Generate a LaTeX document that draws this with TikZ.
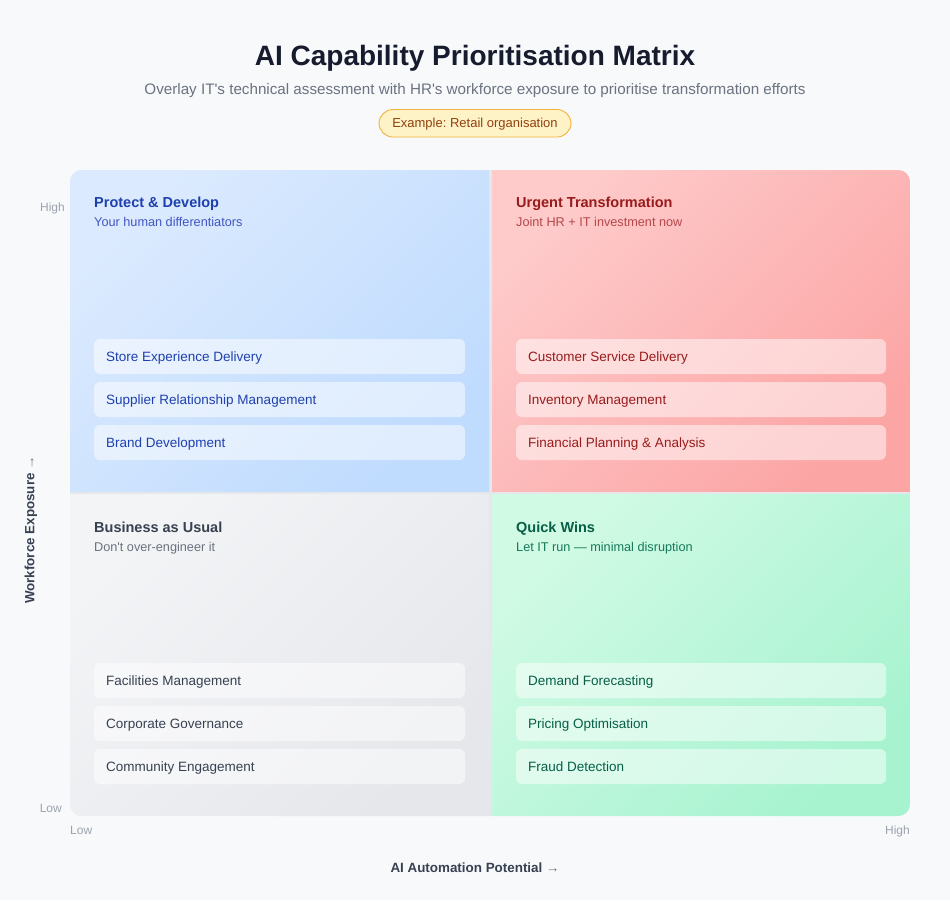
\documentclass[tikz,border=0pt]{standalone}
\usepackage{fontspec}
\setmainfont{Liberation Sans}
\frenchspacing
\definecolor{bg}{HTML}{F8F9FB}
\definecolor{titlec}{HTML}{161B2E}
\definecolor{subc}{HTML}{6B7280}
\definecolor{badgefill}{HTML}{FEF3C7}
\definecolor{badgeline}{HTML}{F2B23A}
\definecolor{badgetext}{HTML}{92400E}
\definecolor{gapc}{HTML}{E5E7EB}
\definecolor{tlA}{HTML}{DBEAFE}
\definecolor{tlB}{HTML}{BFDBFE}
\definecolor{trA}{HTML}{FECACA}
\definecolor{trB}{HTML}{FCA5A5}
\definecolor{blA}{HTML}{F3F4F6}
\definecolor{blB}{HTML}{E5E7EB}
\definecolor{brA}{HTML}{D1FAE5}
\definecolor{brB}{HTML}{A7F3D0}
\definecolor{tlT}{HTML}{1E40AF}
\definecolor{tlS}{HTML}{4256C2}
\definecolor{trT}{HTML}{991B1B}
\definecolor{trS}{HTML}{B4484B}
\definecolor{blT}{HTML}{374151}
\definecolor{blS}{HTML}{6B7280}
\definecolor{brT}{HTML}{065F46}
\definecolor{brS}{HTML}{15795A}
\definecolor{axisc}{HTML}{9CA3AF}
\definecolor{axislbl}{HTML}{374151}
\begin{document}
\begin{tikzpicture}[x=1pt,y=-1pt,
  txt/.style={anchor=base west, inner sep=0pt},
  ctxt/.style={anchor=base, inner sep=0pt},
  qtitle/.style={txt, font=\fontsize{14.5}{17}\selectfont\bfseries},
  qsub/.style={txt, font=\fontsize{12.7}{15}\selectfont},
  itemtxt/.style={txt, font=\fontsize{13.5}{16}\selectfont},
  itembox/.style={fill=white, fill opacity=0.5, rounded corners=6pt},
  axtxt/.style={inner sep=0pt, font=\fontsize{12}{14}\selectfont, text=axisc}]
\useasboundingbox (0,0) rectangle (950,900);
\fill[bg] (0,0) rectangle (950,900);

% header
\node[ctxt, font=\fontsize{28}{32}\selectfont\bfseries, text=titlec] (title) at (475,65) {AI Capability Prioritisation Matrix};
\node[ctxt, font=\fontsize{15.2}{18}\selectfont, text=subc] (subtitle) at (475,94) {Overlay IT\textquotesingle s technical assessment with HR\textquotesingle s workforce exposure to prioritise transformation efforts};
\draw[fill=badgefill, draw=badgeline, line width=0.9pt, rounded corners=14pt] (379,109.5) rectangle (571,137);
\node[ctxt, font=\fontsize{13}{15}\selectfont, text=badgetext] (badge) at (475,127.8) {Example: Retail organisation};

% quadrants
\begin{scope}
\clip[rounded corners=12pt] (70,170) rectangle (910,816);
\fill[gapc] (70,170) rectangle (910,816);
\shade[top color=tlA, bottom color=tlB, shading angle=45] (70,170) rectangle (489,491);
\shade[top color=trA, bottom color=trB, shading angle=45] (492,170) rectangle (910,491);
\shade[top color=blA, bottom color=blB, shading angle=45] (70,494) rectangle (489,816);
\shade[top color=brA, bottom color=brB, shading angle=45] (492,494) rectangle (910,816);
\end{scope}

% quadrant headings
\node[qtitle, text=tlT] (tltitle) at (94,207) {Protect \& Develop};
\node[qsub, text=tlS] (tlsub) at (94,226) {Your human differentiators};
\node[qtitle, text=trT] (trtitle) at (516,207) {Urgent Transformation};
\node[qsub, text=trS] (trsub) at (516,226) {Joint HR + IT investment now};
\node[qtitle, text=blT] (bltitle) at (94,532) {Business as Usual};
\node[qsub, text=blS] (blsub) at (94,551) {Don\textquotesingle t over-engineer it};
\node[qtitle, text=brT] (brtitle) at (516,532) {Quick Wins};
\node[qsub, text=brS] (brsub) at (516,551) {Let IT run — minimal disruption};

% item boxes
\foreach \y in {339,382,425,663,706,749}{
  \fill[itembox] (94,\y) rectangle (465,\y+35);
  \fill[itembox] (516,\y) rectangle (886,\y+35);
}
% items
\node[itemtxt, text=tlT] (tl1) at (106,361.5) {Store Experience Delivery};
\node[itemtxt, text=tlT] (tl2) at (106,404.5) {Supplier Relationship Management};
\node[itemtxt, text=tlT] (tl3) at (106,447.5) {Brand Development};
\node[itemtxt, text=trT] (tr1) at (528,361.5) {Customer Service Delivery};
\node[itemtxt, text=trT] (tr2) at (528,404.5) {Inventory Management};
\node[itemtxt, text=trT] (tr3) at (528,447.5) {Financial Planning \& Analysis};
\node[itemtxt, text=blT] (bl1) at (106,685.5) {Facilities Management};
\node[itemtxt, text=blT] (bl2) at (106,728.5) {Corporate Governance};
\node[itemtxt, text=blT] (bl3) at (106,771.5) {Community Engagement};
\node[itemtxt, text=brT] (br1) at (528,685.5) {Demand Forecasting};
\node[itemtxt, text=brT] (br2) at (528,728.5) {Pricing Optimisation};
\node[itemtxt, text=brT] (br3) at (528,771.5) {Fraud Detection};

% axes labels
\node[axtxt, anchor=base east] (yhigh) at (65,211) {High};
\node[axtxt, anchor=base east] (ylow) at (62,812.5) {Low};
\node[axtxt, anchor=base west] (xlow) at (70,834.5) {Low};
\node[axtxt, anchor=base east] (xhigh) at (910,834.5) {High};
\node[ctxt, font=\fontsize{13.4}{15}\selectfont\bfseries, text=axislbl] (xlabel) at (475,872.5) {AI Automation Potential \textcolor{subc}{\mdseries →}};
\node[inner sep=0pt, rotate=90, font=\fontsize{13.4}{15}\selectfont\bfseries, text=axislbl] (ylabel) at (31,530) {Workforce Exposure \textcolor{subc}{\mdseries →}};
\end{tikzpicture}
\end{document}
